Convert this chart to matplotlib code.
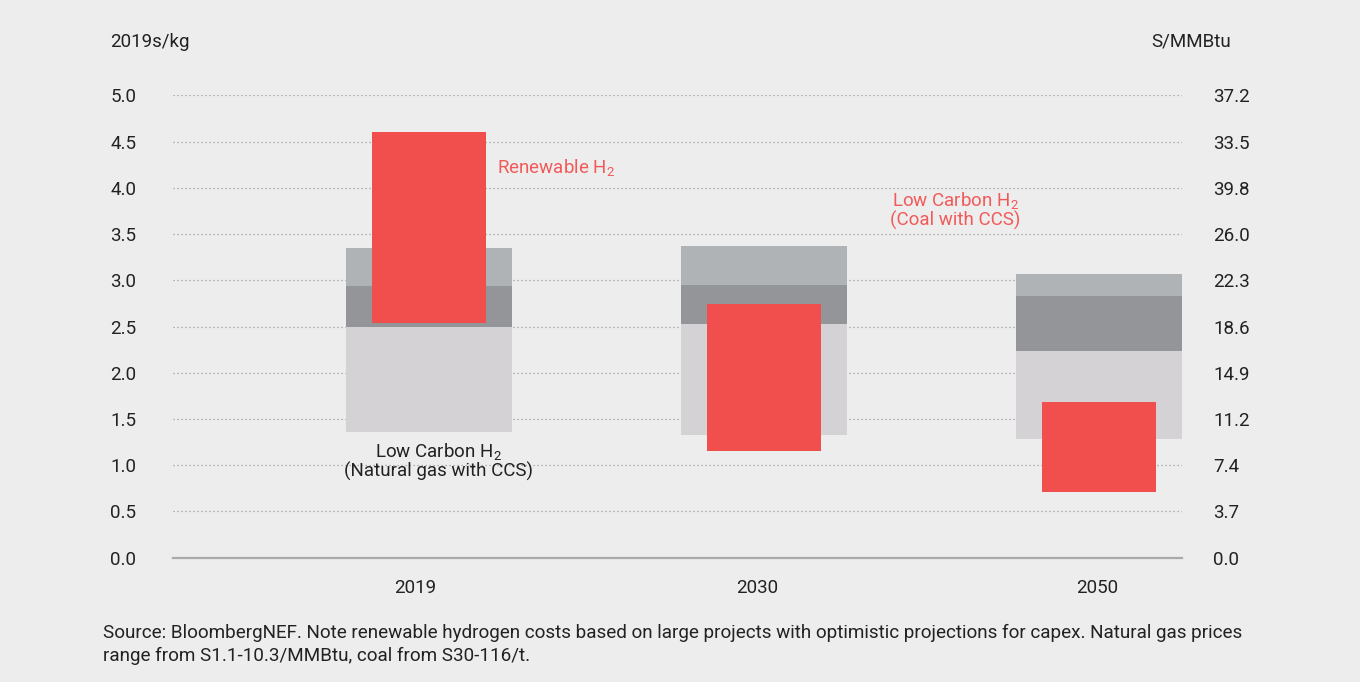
import numpy as np
import matplotlib.pyplot as plt

plt.rcParams['font.family'] = ['Roboto', 'DejaVu Sans']
plt.rcParams['mathtext.fontset'] = 'custom'
plt.rcParams['mathtext.rm'] = 'Roboto'
plt.rcParams['mathtext.it'] = 'Roboto'

# levelised hydrogen cost, $/kg (2019 real)
years = ['2019', '2030', '2050']
gas_low = [1.36, 1.33, 1.28]      # natural gas with CCS, low end
gas_high = [2.49, 2.53, 2.23]     # natural gas with CCS, high end
coal_low = [2.49, 2.53, 2.23]
coal_mid = [2.94, 2.95, 2.83]
coal_high = [3.35, 3.37, 3.07]
renew_low = [2.54, 1.15, 0.71]
renew_high = [4.60, 2.74, 1.68]

left_ticks = [0.0, 0.5, 1.0, 1.5, 2.0, 2.5, 3.0, 3.5, 4.0, 4.5, 5.0]
right_labels = ['0.0', '3.7', '7.4', '11.2', '14.9', '18.6', '22.3', '26.0',
                '39.8', '33.5', '37.2']

bg = '#ededed'
red = '#f04f4e'
red_txt = '#f25a5a'
c_light = '#d4d2d5'
c_dark = '#949598'
c_mid = '#b0b3b5'
txt = '#222222'
fs = 13.5

fig = plt.figure(figsize=(13.6, 6.82), dpi=100, facecolor=bg)
ax = fig.add_axes([172.7 / 1360, 1 - 557.7 / 682, (1182 - 172.7) / 1360,
                   (557.7 - 95.3) / 682])
ax.set_facecolor(bg)

x = np.arange(len(years))
gw, rw = 0.496, 0.34
gas_low, gas_high = np.array(gas_low), np.array(gas_high)
coal_low, coal_mid, coal_high = map(np.array, (coal_low, coal_mid, coal_high))
renew_low, renew_high = np.array(renew_low), np.array(renew_high)

ax.bar(x, gas_high - gas_low, bottom=gas_low, width=gw, color=c_light, zorder=2)
ax.bar(x, coal_mid - coal_low, bottom=coal_low, width=gw, color=c_dark, zorder=2)
ax.bar(x, coal_high - coal_mid, bottom=coal_mid, width=gw, color=c_mid, zorder=2)
ax.bar(x, renew_high - renew_low, bottom=renew_low, width=rw, color=red, zorder=3)

ax.set_xlim(-0.765, 2.248)
ax.set_ylim(0, 5.0)

# dotted horizontal grid
for v in left_ticks[1:]:
    ax.axhline(v, color='#9a9a9a', lw=0.9, ls=(0, (1, 2.2)), zorder=1)

for s in ['top', 'right', 'left']:
    ax.spines[s].set_visible(False)
ax.spines['bottom'].set_color('#aaaaaa')
ax.spines['bottom'].set_linewidth(1.6)

ax.set_xticks(x - np.array([0.04, 0.02, 0.005]))
ax.set_xticklabels(years)
ax.set_yticks(left_ticks)
ax.set_yticklabels([f'{v:.1f}' for v in left_ticks], ha='left')
ax.tick_params(axis='y', length=0, pad=45, labelsize=fs, labelcolor=txt)
ax.tick_params(axis='x', length=0, pad=15, labelsize=fs, labelcolor=txt)

ax2 = ax.twinx()
ax2.set_ylim(ax.get_ylim())
ax2.set_yticks(left_ticks)
ax2.set_yticklabels(right_labels)
ax2.tick_params(axis='y', length=0, pad=22.5, labelsize=fs, labelcolor=txt)
for s in ax2.spines.values():
    s.set_visible(False)

fig.text(110 / 1360, 1 - 42 / 682, '2019s/kg', fontsize=fs, color=txt,
         ha='left', va='center')
fig.text(1151 / 1360, 1 - 42 / 682, 'S/MMBtu', fontsize=fs, color=txt,
         ha='left', va='center')

fig.text(497 / 1360, 1 - 167 / 682, 'Renewable H$_2$', fontsize=fs,
         color=red_txt, ha='left', va='center')
fig.text(955 / 1360, 1 - 210 / 682, 'Low Carbon H$_2$\n(Coal with CCS)',
         fontsize=fs, color=red_txt, ha='center', va='center', linespacing=1.0)
fig.text(438 / 1360, 1 - 461 / 682, 'Low Carbon H$_2$\n(Natural gas with CCS)',
         fontsize=fs, color=txt, ha='center', va='center', linespacing=1.05)

fig.text(103 / 1360, 1 - 633 / 682,
         'Source: BloombergNEF. Note renewable hydrogen costs based on large '
         'projects with optimistic projections for capex. Natural gas prices',
         fontsize=13.6, color=txt, ha='left', va='center')
fig.text(103 / 1360, 1 - 656 / 682,
         'range from S1.1-10.3/MMBtu, coal from S30-116/t.',
         fontsize=13.6, color=txt, ha='left', va='center')

fig.savefig('out.png', dpi=100, facecolor=bg)
